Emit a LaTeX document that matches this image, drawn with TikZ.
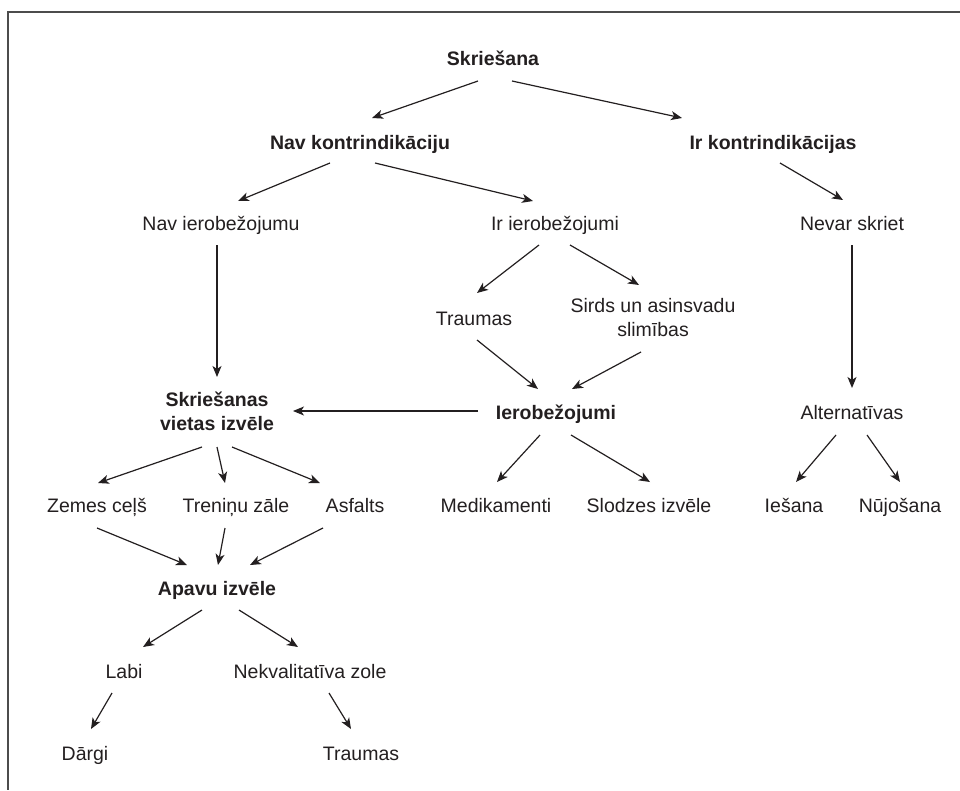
\documentclass[tikz,border=0pt]{standalone}
\usepackage{fontspec}
\setmainfont{Liberation Sans}
\usetikzlibrary{arrows.meta,calc}
\definecolor{ink}{HTML}{231F20}
\begin{document}
\begin{tikzpicture}[x=1pt,y=-1pt,
  lbl/.style={inner sep=0pt,text=ink,font=\fontsize{19.5}{24}\selectfont,text height=14pt,text depth=0pt},
  blbl/.style={lbl,font=\fontsize{19.5}{24}\selectfont\bfseries},
  two/.style={inner sep=0pt,text=ink,align=center,font=\fontsize{19.5}{24}\selectfont},
  btwo/.style={two,font=\fontsize{19.5}{24}\selectfont\bfseries},
  arr/.style={draw=ink,line width=1.2pt,-{Stealth[length=11pt,width=9pt,inset=3pt]}},
  frame/.style={draw=black!70,line width=1.4pt}]
\useasboundingbox (0,0) rectangle (960,790);
\coordinate (f1) at (960,12);
\coordinate (f2) at (8,12);
\coordinate (f3) at (8,790);
\draw[frame] (f1) -- (f2) -- (f3);

\node[blbl] (skr) at (493,58) {Skriešana};
\node[blbl] (nk) at (360,142) {Nav kontrindikāciju};
\node[blbl] (ik) at (773,142) {Ir kontrindikācijas};
\node[lbl] (ni) at (221,223) {Nav ierobežojumu};
\node[lbl] (ii) at (555,223) {Ir ierobežojumi};
\node[lbl] (ns) at (852,223) {Nevar skriet};
\node[lbl] (tr1) at (474,318) {Traumas};
\node[two] (sirds) at (653,318) {Sirds un asinsvadu\\slimības};
\node[blbl] (ier) at (556,412) {Ierobežojumi};
\node[btwo] (svi) at (217,411) {Skriešanas\\vietas izvēle};
\node[lbl] (alt) at (852,412) {Alternatīvas};
\node[lbl] (zc) at (97,505) {Zemes ceļš};
\node[lbl] (tz) at (236,505) {Treniņu zāle};
\node[lbl] (asf) at (355,505) {Asfalts};
\node[lbl] (med) at (496,505) {Medikamenti};
\node[lbl] (slo) at (649,505) {Slodzes izvēle};
\node[lbl] (ies) at (794,505) {Iešana};
\node[lbl] (nuj) at (900,505) {Nūjošana};
\node[blbl] (apv) at (217,588) {Apavu izvēle};
\node[lbl] (labi) at (124,671) {Labi};
\node[lbl] (nekv) at (310,671) {Nekvalitatīva zole};
\node[lbl] (dar) at (85,753) {Dārgi};
\node[lbl] (tr2) at (361,753) {Traumas};

\draw[arr] ($(skr)+(-15,23)$) -- ($(nk)+(12,-24)$);
\draw[arr] ($(skr)+(19,23)$) -- ($(ik)+(-91,-24)$);
\draw[arr] ($(nk)+(-30,21)$) -- ($(ni)+(17,-22)$);
\draw[arr] ($(nk)+(15,21)$) -- ($(ii)+(-22,-22)$);
\draw[arr] ($(ik)+(7,21)$) -- ($(ns)+(-9,-23)$);
\draw[arr] ($(ni)+(-4,22)$) -- ($(svi)+(0,-34)$);
\draw[arr] ($(ii)+(-16,22)$) -- ($(tr1)+(3,-25)$);
\draw[arr] ($(ii)+(15,22)$) -- ($(sirds)+(-14,-33)$);
\draw[arr] ($(tr1)+(3,22)$) -- ($(ier)+(-18,-23)$);
\draw[arr] ($(sirds)+(-12,34)$) -- ($(ier)+(16,-23)$);
\draw[arr] ($(ier)+(-78,-1)$) -- ($(svi)+(76,0)$);
\draw[arr] ($(ns)+(0,22)$) -- ($(alt)+(0,-24)$);
\draw[arr] ($(svi)+(-15,36)$) -- ($(zc)+(1,-22)$);
\draw[arr] ($(svi)+(0,36)$) -- ($(tz)+(-11,-22)$);
\draw[arr] ($(svi)+(15,36)$) -- ($(asf)+(-35,-22)$);
\draw[arr] ($(ier)+(-16,23)$) -- ($(med)+(1,-23)$);
\draw[arr] ($(ier)+(15,23)$) -- ($(slo)+(1,-23)$);
\draw[arr] ($(alt)+(-16,23)$) -- ($(ies)+(2,-23)$);
\draw[arr] ($(alt)+(15,23)$) -- ($(nuj)+(0,-23)$);
\draw[arr] ($(zc)+(0,23)$) -- ($(apv)+(-30,-23)$);
\draw[arr] ($(tz)+(-11,23)$) -- ($(apv)+(1,-23)$);
\draw[arr] ($(asf)+(-32,23)$) -- ($(apv)+(33,-23)$);
\draw[arr] ($(apv)+(-15,22)$) -- ($(labi)+(19,-24)$);
\draw[arr] ($(apv)+(22,22)$) -- ($(nekv)+(-12,-24)$);
\draw[arr] ($(labi)+(-12,22)$) -- ($(dar)+(6,-24)$);
\draw[arr] ($(nekv)+(19,22)$) -- ($(tr2)+(-10,-24)$);
\end{tikzpicture}
\end{document}
